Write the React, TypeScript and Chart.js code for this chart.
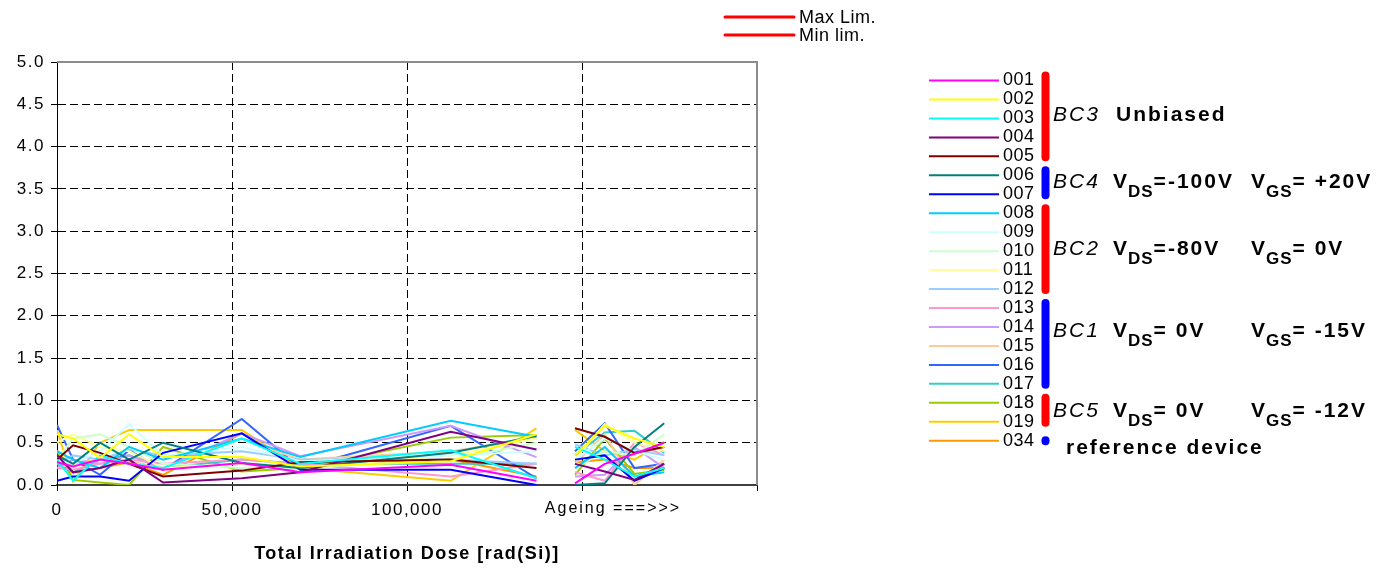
import React, { useEffect, useRef } from 'react';
import { Chart, registerables } from 'chart.js';

Chart.register(...registerables);

// ---- data ----
const doseX = [0, 4600, 12300, 20600, 30300, 52800, 69500, 112500, 137000, 142500, 148000, 156500, 165000, 173500];

const deviceLabels = ['001', '002', '003', '004', '005', '006', '007', '008', '009', '010', '011', '012', '013', '014', '015', '016', '017', '018', '019', '034'];
const deviceColors = ['#FF00FF', '#FFFF00', '#00FFFF', '#800080', '#800000', '#008080', '#0000FF', '#00CCFF', '#CCFFFF', '#CCFFCC', '#FFFF99', '#99CCFF', '#FF99CC', '#CC99FF', '#FFCC99', '#3366FF', '#33CCCC', '#99CC00', '#FFCC00', '#FF9900'];

const s001 = [0.27, 0.22, 0.3, 0.25, 0.18, 0.26, 0.15, 0.24, 0.05, null, 0.02, 0.25, 0.37, 0.5];
const s002 = [0.6, 0.55, 0.32, 0.6, 0.33, 0.33, 0.22, 0.28, 0.6, null, 0.35, 0.7, 0.55, 0.45];
const s003 = [0.3, 0.05, 0.35, 0.25, 0.2, 0.55, 0.25, 0.41, 0.08, null, 0.45, 0.3, 0.1, 0.2];
const s004 = [0.35, 0.15, 0.2, 0.3, 0.03, 0.08, 0.15, 0.63, 0.42, null, 0.25, 0.16, 0.06, 0.25];
const s005 = [0.3, 0.47, 0.38, 0.25, 0.1, 0.17, 0.27, 0.3, 0.2, null, 0.67, 0.57, 0.38, 0.45];
const s006 = [0.35, 0.25, 0.5, 0.3, 0.5, 0.26, 0.2, 0.38, 0.58, null, 0.0, 0.02, 0.45, 0.73];
const s007 = [0.05, 0.1, 0.1, 0.05, 0.38, 0.61, 0.18, 0.18, 0.0, null, 0.3, 0.35, 0.05, 0.2];
const s008 = [0.4, 0.3, 0.2, 0.45, 0.3, 0.55, 0.33, 0.76, 0.57, null, 0.2, 0.45, 0.1, 0.15];
const s009 = [0.3, 0.25, 0.4, 0.72, 0.35, 0.45, 0.28, 0.35, 0.4, null, 0.3, 0.55, 0.4, 0.3];
const s010 = [0.3, 0.55, 0.6, 0.45, 0.25, 0.2, 0.2, 0.3, 0.5, null, 0.2, 0.4, 0.35, 0.6];
const s011 = [0.5, 0.6, 0.45, 0.4, 0.2, 0.25, 0.2, 0.35, 0.55, null, 0.3, 0.72, 0.5, 0.4];
const s012 = [0.25, 0.35, 0.3, 0.42, 0.35, 0.4, 0.3, 0.3, 0.25, null, 0.48, 0.35, 0.42, 0.35];
const s013 = [0.2, 0.18, 0.25, 0.3, 0.25, 0.3, 0.25, 0.1, 0.25, null, 0.15, 0.05, 0.5, 0.35];
const s014 = [0.2, 0.3, 0.25, 0.35, 0.2, 0.61, 0.34, 0.7, 0.33, null, 0.1, 0.12, 0.45, 0.2];
const s015 = [0.2, 0.25, 0.3, 0.28, 0.2, 0.55, 0.3, 0.4, 0.55, null, 0.25, 0.6, 0.0, 0.3];
const s016 = [0.71, 0.3, 0.12, 0.41, 0.18, 0.78, 0.2, 0.7, 0.08, null, 0.4, 0.73, 0.2, 0.25];
const s017 = [0.25, 0.15, 0.3, 0.35, 0.2, 0.3, 0.25, 0.25, 0.25, null, 0.35, 0.62, 0.64, 0.38];
const s018 = [0.4, 0.06, 0.03, 0.0, 0.45, 0.16, 0.2, 0.56, 0.59, null, 0.12, 0.55, 0.13, 0.18];
const s019 = [0.65, 0.04, 0.5, 0.65, 0.65, 0.65, 0.2, 0.05, 0.67, null, 0.65, 0.4, 0.3, 0.51];
const s034 = [0.41, 0.15, 0.2, 0.27, 0.12, 0.61, 0.22, 0.3, 0.1, null, 0.27, 0.3, 0.2, 0.2];

const seriesValues = [s001, s002, s003, s004, s005, s006, s007, s008, s009, s010, s011, s012, s013, s014, s015, s016, s017, s018, s019, s034];

const limitLabels = ['Max Lim.', 'Min lim.'];
const limitColor = '#FF0000';

const xTickText: Record<number, string> = { 0: '0', 50000: '50,000', 100000: '100,000' };
const ageingLabel = 'Ageing ===>>>';
const xTitle = 'Total Irradiation Dose [rad(Si)]';

// groups: first row, last row, bar colour, name, description
const groupRows = [[0, 4], [5, 6], [7, 11], [12, 16], [17, 18], [19, 19]];
const groupBarColors = ['#FF0000', '#0000FF', '#FF0000', '#0000FF', '#FF0000', '#0000FF'];
const groupNames = ['BC3', 'BC4', 'BC2', 'BC1', 'BC5', ''];
const groupVds = ['', '=-100V', '=-80V', '= 0V', '= 0V', ''];
const groupVgs = ['', '= +20V', '= 0V', '= -15V', '= -12V', ''];
const groupPlain = ['Unbiased', '', '', '', '', 'reference device'];
const groupTextY = [113, 180, 247, 329, 409, 446];

function txt(ctx: any, s: string, x: number, y: number, font: string, ls: string, align = 'left', base = 'alphabetic', color = '#000') {
  ctx.font = font;
  ctx.letterSpacing = ls;
  ctx.textAlign = align;
  ctx.textBaseline = base;
  ctx.fillStyle = color;
  ctx.fillText(s, x, y);
  return ctx.measureText(s).width;
}

const overlayPlugin = {
  id: 'overlay',
  beforeDraw(chart: any) {
    chart.ctx.letterSpacing = '1.5px';
  },
  beforeDatasetsDraw(chart: any) {
    const { ctx, chartArea: a } = chart;
    ctx.save();
    ctx.strokeStyle = '#8c8c8c';
    ctx.lineWidth = 2;
    ctx.beginPath();
    ctx.moveTo(a.left, a.top);
    ctx.lineTo(a.right, a.top);
    ctx.lineTo(a.right, a.bottom);
    ctx.stroke();
    ctx.restore();
  },
  afterDraw(chart: any) {
    const ctx = chart.ctx;
    const xs = chart.scales.x;
    ctx.save();
    // ageing label on x axis
    txt(ctx, ageingLabel, xs.getPixelForValue(150000) + 31, 509, '16px Arial, "Liberation Sans"', '2px', 'center', 'middle');

    // limit legend
    limitLabels.forEach((l, i) => {
      const y = 17 + i * 18;
      ctx.strokeStyle = limitColor;
      ctx.lineWidth = 3;
      ctx.lineCap = 'round';
      ctx.beginPath();
      ctx.moveTo(725, y);
      ctx.lineTo(794, y);
      ctx.stroke();
      txt(ctx, l, 799, y + 1, '18px Arial, "Liberation Sans"', '0.5px', 'left', 'middle');
    });

    // device legend
    const rowY = (i: number) => 80.5 + i * 18.96;
    deviceLabels.forEach((l, i) => {
      const y = rowY(i);
      ctx.strokeStyle = deviceColors[i];
      ctx.lineWidth = 2;
      ctx.lineCap = 'butt';
      ctx.beginPath();
      ctx.moveTo(929, y);
      ctx.lineTo(999, y);
      ctx.stroke();
      txt(ctx, l, 1003, y, '18px Arial, "Liberation Sans"', '0.5px', 'left', 'middle');
    });

    // group bars and texts
    groupRows.forEach((g, gi) => {
      ctx.strokeStyle = groupBarColors[gi];
      ctx.lineWidth = 8;
      ctx.lineCap = 'round';
      ctx.beginPath();
      if (g[0] === g[1]) {
        ctx.moveTo(1045.5, rowY(g[0]) - 0.5);
        ctx.lineTo(1045.5, rowY(g[0]) + 0.5);
      } else {
        ctx.moveTo(1045.5, rowY(g[0]) - 9 + 4);
        ctx.lineTo(1045.5, rowY(g[1]) + 5 - 4);
      }
      ctx.stroke();

      const base = groupTextY[gi] + 7.5;
      const bold = 'bold 21px Arial, "Liberation Sans"';
      const sub = 'bold 17px Arial, "Liberation Sans"';
      if (groupNames[gi]) {
        txt(ctx, groupNames[gi], 1053, base, 'italic 21px Arial, "Liberation Sans"', '2px');
      }
      if (groupPlain[gi]) {
        txt(ctx, groupPlain[gi], gi === 0 ? 1116 : 1066, base, bold, '2px');
      }
      if (groupVds[gi]) {
        let x = 1113;
        x += txt(ctx, 'V', x, base, bold, '1px');
        x += txt(ctx, 'DS', x, base + 9, sub, '1px');
        txt(ctx, groupVds[gi], x, base, bold, '2px');
        x = 1251;
        x += txt(ctx, 'V', x, base, bold, '1px');
        x += txt(ctx, 'GS', x, base + 9, sub, '1px');
        txt(ctx, groupVgs[gi], x, base, bold, '2px');
      }
    });
    ctx.restore();
  },
};

export default function App() {
  const ref = useRef<HTMLCanvasElement | null>(null);
  useEffect(() => {
    document.body.style.margin = '0';
    const canvas = ref.current;
    if (!canvas) return;
    const datasets: any[] = deviceLabels.map((l, i) => ({
      label: l,
      data: doseX.map((x, k) => ({ x, y: seriesValues[i][k] })),
      borderColor: deviceColors[i],
      backgroundColor: deviceColors[i],
      borderWidth: 2,
      pointRadius: 0,
      tension: 0,
      spanGaps: false,
      fill: false,
    }));
    limitLabels.forEach((l) => {
      datasets.push({ label: l, data: [], borderColor: limitColor, borderWidth: 3, pointRadius: 0 });
    });
    const chart = new Chart(canvas, {
      type: 'line',
      data: { datasets },
      plugins: [overlayPlugin],
      options: {
        animation: false,
        responsive: false,
        maintainAspectRatio: false,
        layout: { padding: { left: 0, top: 62, right: 621, bottom: 0 } },
        plugins: { legend: { display: false }, tooltip: { enabled: false } },
        scales: {
          x: {
            type: 'linear',
            min: 0,
            max: 200000,
            afterFit: (s: any) => { s.height = 83; },
            ticks: {
              stepSize: 50000,
              autoSkip: false,
              maxRotation: 0,
              color: '#000',
              padding: 9,
              font: { family: 'Arial, "Liberation Sans"', size: 17 },
              callback: (v: any) => (xTickText[v] !== undefined ? xTickText[v] : ''),
            },
            grid: {
              color: (c: any) => (c.tick && (c.tick.value === 0 || c.tick.value === 200000) ? 'rgba(0,0,0,0)' : '#000'),
              lineWidth: 1,
              tickColor: '#000',
              tickLength: 6,
              drawTicks: true,
            },
            border: { display: true, color: '#404040', width: 2, dash: [8, 4] },
            title: {
              display: true,
              text: xTitle,
              color: '#000',
              font: { family: 'Arial, "Liberation Sans"', size: 18, weight: 'bold' },
              padding: { top: 0, bottom: 3 },
            },
          },
          y: {
            min: 0,
            max: 5,
            afterFit: (s: any) => { s.width = 57; },
            ticks: {
              stepSize: 0.5,
              color: '#000',
              padding: 6,
              font: { family: 'Arial, "Liberation Sans"', size: 17 },
              callback: (v: any) => Number(v).toFixed(1),
            },
            grid: {
              color: (c: any) => (c.tick && (c.tick.value === 0 || c.tick.value === 5) ? 'rgba(0,0,0,0)' : '#000'),
              lineWidth: 1,
              tickColor: '#000',
              tickLength: 6,
            },
            border: { display: true, color: '#000', width: 1, dash: [8, 4] },
          },
        },
      },
    } as any);
    return () => chart.destroy();
  }, []);
  return (
    <div style={{ width: 1378, height: 568, background: '#fff' }}>
      <canvas ref={ref} width={1378} height={568} style={{ display: 'block' }} />
    </div>
  );
}
